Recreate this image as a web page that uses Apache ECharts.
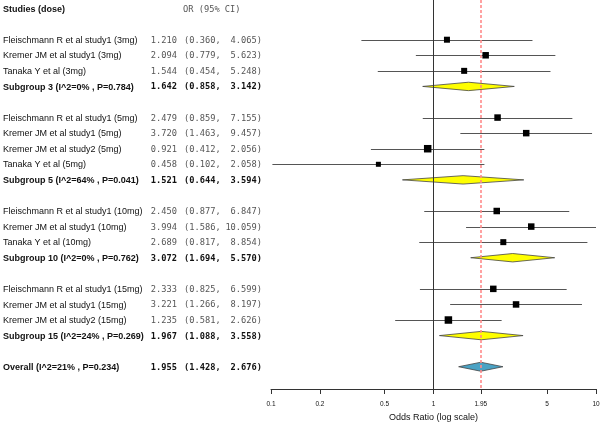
<!DOCTYPE html>
<html><head><meta charset="utf-8">
<script src="https://cdn.jsdelivr.net/npm/echarts@6/dist/echarts.min.js"></script>
<style>html,body{margin:0;padding:0;background:#fff}#c{width:600px;height:424px}</style>
</head><body><div id="c"></div>
<script>
// ---- data ----
const studyNames = ['Fleischmann R et al study1 (3mg)','Kremer JM et al study1 (3mg)','Tanaka Y et al (3mg)',
  'Fleischmann R et al study1 (5mg)','Kremer JM et al study1 (5mg)','Kremer JM et al study2 (5mg)','Tanaka Y et al (5mg)',
  'Fleischmann R et al study1 (10mg)','Kremer JM et al study1 (10mg)','Tanaka Y et al (10mg)',
  'Fleischmann R et al study1 (15mg)','Kremer JM et al study1 (15mg)','Kremer JM et al study2 (15mg)'];
const studyRows = [2,3,4,7,8,9,10,13,14,15,18,19,20];
const studyOR = [1.210,2.094,1.544,2.479,3.720,0.921,0.458,2.450,3.994,2.689,2.333,3.221,1.235];
const studyLo = [0.360,0.779,0.454,0.859,1.463,0.412,0.102,0.877,1.586,0.817,0.825,1.266,0.581];
const studyHi = [4.065,5.623,5.248,7.155,9.457,2.056,2.058,6.847,10.059,8.854,6.599,8.197,2.626];
const studyWeight = [6,6.5,6,6.5,6.5,7.5,5,6.5,6.5,6,6.5,6.5,7.5];

const subNames = ['Subgroup 3 (I^2=0% , P=0.784)','Subgroup 5 (I^2=64% , P=0.041)','Subgroup 10 (I^2=0% , P=0.762)','Subgroup 15 (I^2=24% , P=0.269)'];
const subRows = [5,11,16,21];
const subOR = [1.642,1.521,3.072,1.967];
const subLo = [0.858,0.644,1.694,1.088];
const subHi = [3.142,3.594,5.570,3.558];

const overallName = 'Overall (I^2=21% , P=0.234)';
const overallRow = 23;
const overallOR = 1.955, overallLo = 1.428, overallHi = 2.676;

const tickValues = [0.1,0.2,0.5,1,1.955,5,10];
const tickLabels = ['0.1','0.2','0.5','1','1.95','5','10'];
const headerLeft = 'Studies (dose)';
const headerRight = 'OR (95% CI)';
const xTitle = 'Odds Ratio (log scale)';

// ---- layout ----
const ROW_MIN = -0.55, ROW_MAX = 24.43;
const SANS = 'Liberation Sans, Arial, sans-serif';
const MONO = 'DejaVu Sans Mono, monospace';

const textRows = [];
textRows.push({row: 0, name: headerLeft, kind: 'header'});
studyNames.forEach((n,i)=>textRows.push({row: studyRows[i], name: n, or: studyOR[i], lo: studyLo[i], hi: studyHi[i], kind: 'study'}));
subNames.forEach((n,i)=>textRows.push({row: subRows[i], name: n, or: subOR[i], lo: subLo[i], hi: subHi[i], kind: 'sub'}));
textRows.push({row: overallRow, name: overallName, or: overallOR, lo: overallLo, hi: overallHi, kind: 'sub'});

const chart = echarts.init(document.getElementById('c'), null, {renderer: 'canvas'});

const option = {
  animation: false,
  backgroundColor: '#ffffff',
  grid: [
    {left: 271, right: 4, top: 0, bottom: 35, containLabel: false, outerBoundsMode: 'none'},
    {left: 0, width: 271, top: 0, bottom: 35, containLabel: false, outerBoundsMode: 'none'}
  ],
  xAxis: [
    {type: 'log', logBase: 10, min: 0.1, max: 10, gridIndex: 0,
     axisLine: {show: true, onZero: false, lineStyle: {color: '#333', width: 1}},
     axisTick: {show: true, length: 5, customValues: tickValues, lineStyle: {color: '#333'}},
     axisLabel: {show: true, customValues: tickValues, fontSize: 6.5, fontFamily: SANS, color: '#111', margin: 12,
       formatter: (v)=>{ const i = tickValues.findIndex(t=>Math.abs(t-v)<1e-6); return i>=0 ? tickLabels[i] : ''; }},
     splitLine: {show: false},
     name: xTitle, nameLocation: 'middle', nameGap: 23,
     nameTextStyle: {fontSize: 9, fontFamily: SANS, color: '#111'}},
    {type: 'value', min: 0, max: 271, gridIndex: 1, show: false}
  ],
  yAxis: [
    {type: 'value', min: ROW_MIN, max: ROW_MAX, inverse: true, gridIndex: 0, show: false},
    {type: 'value', min: ROW_MIN, max: ROW_MAX, inverse: true, gridIndex: 1, show: false}
  ],
  series: [
    { // CI lines
      type: 'custom', xAxisIndex: 0, yAxisIndex: 0, z: 2, silent: true,
      data: studyRows.map((r,i)=>[studyLo[i], studyHi[i], r]),
      encode: {x: [0,1], y: 2},
      renderItem: (params, api)=>{
        const p1 = api.coord([api.value(0), api.value(2)]);
        const p2 = api.coord([api.value(1), api.value(2)]);
        const cs = params.coordSys;
        const x2 = Math.min(p2[0], cs.x + cs.width);
        const x1 = Math.max(p1[0], cs.x);
        const y = Math.round(p1[1]) + 0.5;
        return {type: 'line', shape: {x1: x1, y1: y, x2: x2, y2: y}, style: {stroke: '#555', lineWidth: 1}};
      },
      markLine: {
        silent: true, symbol: ['none','none'], label: {show: false},
        data: [
          {xAxis: 1, lineStyle: {color: '#333', width: 1, type: 'solid', opacity: 1}},
          {xAxis: overallOR, lineStyle: {color: '#ff8a8a', width: 1.6, type: [3,2], opacity: 1}}
        ]
      }
    },
    { // squares
      type: 'scatter', xAxisIndex: 0, yAxisIndex: 0, z: 4, silent: true,
      symbol: 'rect',
      data: studyRows.map((r,i)=>[studyOR[i], r, studyWeight[i]]),
      symbolSize: (v)=>v[2],
      itemStyle: {color: '#000', opacity: 1}
    },
    { // diamonds
      type: 'custom', xAxisIndex: 0, yAxisIndex: 0, z: 3, silent: true,
      data: subRows.map((r,i)=>[subOR[i], subLo[i], subHi[i], r, 0]).concat([[overallOR, overallLo, overallHi, overallRow, 1]]),
      encode: {x: [0,1,2], y: 3},
      renderItem: (params, api)=>{
        const c = api.coord([api.value(0), api.value(3)]);
        const l = api.coord([api.value(1), api.value(3)]);
        const h = api.coord([api.value(2), api.value(3)]);
        const overall = api.value(4) === 1;
        const hh = overall ? 4.5 : 4.2;
        return {type: 'polygon',
          shape: {points: [[l[0], c[1]], [c[0], c[1]-hh], [h[0], c[1]], [c[0], c[1]+hh]]},
          style: {fill: overall ? '#4aa2c4' : '#ffff00', stroke: '#444', lineWidth: 0.8}};
      }
    },
    { // left text table
      type: 'custom', xAxisIndex: 1, yAxisIndex: 1, z: 5, silent: true,
      data: textRows.map((t,i)=>[0, t.row, i]),
      encode: {x: 0, y: 1},
      renderItem: (params, api)=>{
        const t = textRows[api.value(2)];
        const y = api.coord([0, t.row])[1] + 0.7;
        const bold = t.kind !== 'study';
        const children = [{type: 'text', style: {text: t.name, x: 3, y: y, fontFamily: SANS, fontSize: 9,
            fontWeight: bold ? 'bold' : 'normal', fill: '#111', verticalAlign: 'middle', align: 'left'}}];
        if (t.kind === 'header') {
          children.push({type: 'text', style: {text: headerRight, x: 183, y: y, fontFamily: MONO, fontSize: 8.7,
            fill: '#555', verticalAlign: 'middle', align: 'left'}});
        } else {
          const col = bold ? '#111' : '#555';
          const fw = bold ? 'bold' : 'normal';
          children.push({type: 'text', style: {text: t.or.toFixed(3), x: 177, y: y, fontFamily: MONO, fontSize: 8.7, fontWeight: fw, fill: col, verticalAlign: 'middle', align: 'right'}});
          children.push({type: 'text', style: {text: '(' + t.lo.toFixed(3) + ',', x: 184, y: y, fontFamily: MONO, fontSize: 8.7, fontWeight: fw, fill: col, verticalAlign: 'middle', align: 'left'}});
          children.push({type: 'text', style: {text: t.hi.toFixed(3) + ')', x: 262, y: y, fontFamily: MONO, fontSize: 8.7, fontWeight: fw, fill: col, verticalAlign: 'middle', align: 'right'}});
        }
        return {type: 'group', children: children};
      }
    }
  ]
};
chart.setOption(option);
</script>
</body></html>
